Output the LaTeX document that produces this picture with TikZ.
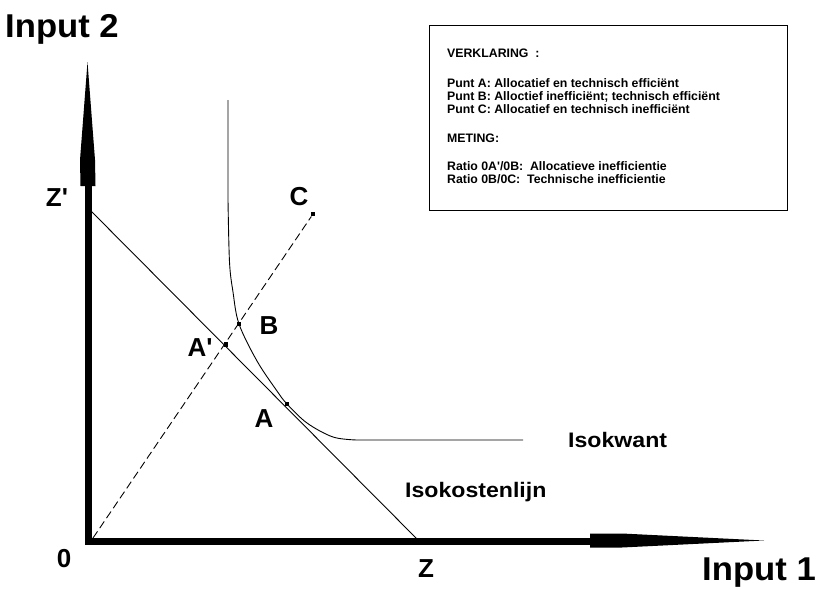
\documentclass[tikz,border=0pt]{standalone}
\usepackage{fontspec}
\setmainfont{Liberation Sans}
\begin{document}
\begin{tikzpicture}[x=1pt,y=-1pt,
  axisline/.style={line width=7pt},
  thinline/.style={line width=0.9pt},
  rayline/.style={line width=0.9pt, dash pattern=on 8pt off 4pt},
  pointmark/.style={fill=black, inner sep=0pt, minimum size=4.5pt, draw=none, rectangle},
  biglabel/.style={font=\bfseries\fontsize{33}{36}\selectfont, inner sep=0pt, xscale=1.05},
  ptlabel/.style={font=\bfseries\fontsize{26}{28}\selectfont, inner sep=0pt},
  curvelabel/.style={font=\bfseries\fontsize{21}{24}\selectfont, inner sep=0pt, xscale=1.1},
  boxtext/.style={font=\bfseries\fontsize{12.3}{13}\selectfont, inner sep=0pt, anchor=base west}
]
\useasboundingbox (0,0) rectangle (818,589);
% axes
\coordinate (O) at (88,541);
\coordinate (ytop) at (88,185);
\coordinate (xend) at (592,541);
\draw[axisline] (ytop) -- (O) -- (xend);
\fill (80.5,186) -- (95.5,186) -- (95,160) -- (87.5,62) -- (80,160) -- cycle;
\fill (590,533.5) -- (622,533.5) -- (764,540.5) -- (622,547.5) -- (590,547.5) -- cycle;
% isocost line
\coordinate (Zp) at (90,210);
\coordinate (Z) at (418,540);
\draw[thinline] (Zp) -- (Z);
% ray
\coordinate (ray0) at (93,538);
\node[pointmark] (C) at (313,214) {};
\draw[rayline] (ray0) -- (C);
\node[pointmark] (Ap) at (226,344.5) {};
\node[pointmark] (B) at (239,324) {};
\node[pointmark] (A) at (287,404) {};
% isoquant
\draw[thinline] (228,100) -- (228,200)
  plot[smooth, tension=0.55] coordinates {(228,200) (229.5,262) (233,292) (239,324) (257,361) (277,391) (287,404) (307,423) (333,437) (357,440)}
  -- (523,440);
% labels
\node[biglabel, anchor=base west] (in2) at (5,37) {Input 2};
\node[biglabel, anchor=base west] (in1) at (702,580) {Input 1};
\node[ptlabel] (l0) at (64,559) {0};
\node[ptlabel] (lZ) at (426,569) {Z};
\node[ptlabel] (lZp) at (57,198) {Z\textquotesingle};
\node[ptlabel] (lC) at (299,197) {C};
\node[ptlabel] (lB) at (269,326) {B};
\node[ptlabel] (lAp) at (200,348) {A\textquotesingle};
\node[ptlabel] (lA) at (264,419) {A};
\node[curvelabel, anchor=base west] (iso) at (568,447) {Isokwant};
\node[curvelabel, anchor=base west] (isoc) at (405,497) {Isokostenlijn};
% legend box
\draw[line width=0.8pt] (429,25) rectangle (787,210);
\node[boxtext] (t1) at (447,57) {VERKLARING \ :};
\node[boxtext] (t2) at (447,87) {Punt A: Allocatief en technisch efficiënt};
\node[boxtext] (t3) at (447,100) {Punt B: Alloctief inefficiënt; technisch efficiënt};
\node[boxtext] (t4) at (447,113) {Punt C: Allocatief en technisch inefficiënt};
\node[boxtext] (t5) at (447,142) {METING:};
\node[boxtext] (t6) at (447,170) {Ratio 0A\textquotesingle/0B: \ Allocatieve inefficientie};
\node[boxtext] (t7) at (447,183) {Ratio 0B/0C: \ Technische inefficientie};
\end{tikzpicture}
\end{document}
